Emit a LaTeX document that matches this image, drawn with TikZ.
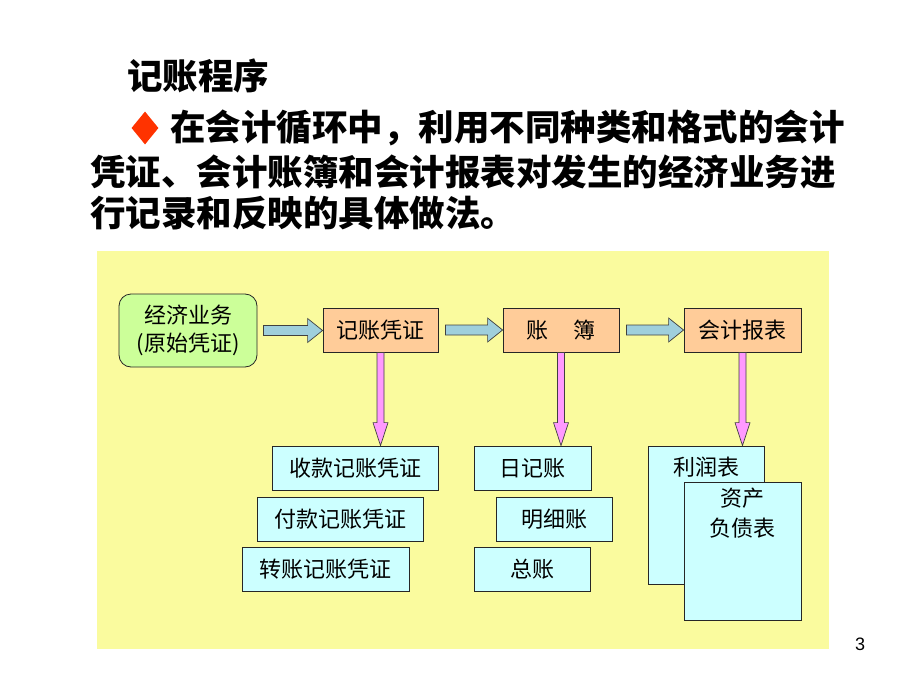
\documentclass[tikz,border=0pt]{standalone}
\usepackage{fontspec}
\setmainfont{Liberation Sans}
\newfontfamily\cjk{Noto Sans CJK SC}
\usetikzlibrary{calc,positioning,shapes.geometric}

\definecolor{giallo}{HTML}{FAFB9E}
\definecolor{verde}{HTML}{CCFF99}
\definecolor{arancio}{HTML}{FFCC99}
\definecolor{ciano}{HTML}{CCFFFF}
\definecolor{azzurro}{HTML}{9FCFDC}
\definecolor{rosa}{HTML}{FF99FF}
\definecolor{rombo}{HTML}{FF3300}

\tikzset{
  testo/.style={anchor=west, inner sep=0pt, font=\cjk\bfseries\fontsize{35.5}{42}\selectfont},
  scatola/.style={draw=black!85, line width=0.8pt, minimum height=44pt, inner sep=0pt,
    font=\cjk\fontsize{22}{28}\selectfont},
  passo/.style={scatola, fill=arancio},
  dettaglio/.style={scatola, fill=ciano},
  rarr/.style={draw=black!75, line width=0.7pt, fill=azzurro},
  darr/.style={draw=black!75, line width=0.7pt, fill=rosa}
}

% freccia a blocco verso destra
\newcommand{\destra}[2]{\draw[rarr] let \p1=(#1), \p2=(#2) in
  (\x1,\y1-5pt) -- (\x2-15pt,\y1-5pt) -- (\x2-15pt,\y1-12pt) -- (\x2,\y1)
  -- (\x2-15pt,\y1+12pt) -- (\x2-15pt,\y1+5pt) -- (\x1,\y1+5pt) -- cycle;}
% freccia a blocco verso il basso
\newcommand{\giu}[2]{\draw[darr] let \p1=(#1), \p2=(#2) in
  (\x1-3.5pt,\y1) -- (\x1-3.5pt,\y2+23pt) -- (\x1-7.5pt,\y2+23pt) -- (\x1,\y2)
  -- (\x1+7.5pt,\y2+23pt) -- (\x1+3.5pt,\y2+23pt) -- (\x1+3.5pt,\y1) -- cycle;}

\begin{document}
\begin{tikzpicture}[x=1pt,y=-1pt]
    \useasboundingbox (0,0) rectangle (920,690);

    % Titolo e testo
    \node[testo] (titolo) at (127,76) {记账程序};
    \node[fill=rombo, diamond, minimum width=27pt, minimum height=33pt, inner sep=0pt] (punto) at (145,128) {};
    \node[testo] (riga1) at (170,128) {在会计循环中，利用不同种类和格式的会计};
    \node[testo] (riga2) at (90,172) {凭证、会计账簿和会计报表对发生的经济业务进};
    \node[testo] (riga3) at (90,213) {行记录和反映的具体做法。};

    % Sfondo
    \fill[giallo] (97,251) rectangle (829,649);

    % Prima fila
    \node[scatola, fill=verde, rounded corners=12pt, minimum width=138pt, minimum height=73pt,
          align=center] (affari) at (188,330.5) {经济业务\\(原始凭证)};
    \node[passo, minimum width=115pt] (voucher) at (380.5,330) {记账凭证};
    \node[passo, minimum width=116pt] (libri) at (561,330) {账\hspace{1.1em}簿};
    \node[passo, minimum width=117pt] (report) at (742.5,330) {会计报表};

    % Frecce orizzontali
    \destra{$(affari.east)+(6,0)$}{voucher.west}
    \destra{$(voucher.east)+(7,0)$}{libri.west}
    \destra{$(libri.east)+(7,0)$}{report.west}

    % Registrazioni
    \node[dettaglio, minimum width=166pt] (incasso) at (355,468) {收款记账凭证};
    \node[dettaglio, minimum width=166pt] (pagamento) at (340,519) {付款记账凭证};
    \node[dettaglio, minimum width=167pt] (giroconto) at (325.5,569) {转账记账凭证};

    % Libri
    \node[dettaglio, minimum width=117pt] (giornale) at (532.5,468) {日记账};
    \node[dettaglio, minimum width=116pt] (partitario) at (554,519) {明细账};
    \node[dettaglio, minimum width=116pt] (mastro) at (532,569) {总账};

    % Prospetti
    \node[dettaglio, minimum width=116pt, minimum height=138pt] (conto) at (706,515) {};
    \node[font=\cjk\fontsize{22}{28}\selectfont] (contot) at (706,467) {利润表};
    \node[dettaglio, minimum width=117pt, minimum height=138pt] (bilancio) at (742.5,551) {};
    \node[font=\cjk\fontsize{22}{30}\selectfont, align=center] (bilanciot) at (742.5,513) {资产\\负债表};

    % Frecce verticali
    \giu{voucher.south}{voucher.south |- incasso.north}
    \giu{libri.south}{libri.south |- giornale.north}
    \giu{report.south}{report.south |- conto.north}

    % Numero pagina
    \node[font=\fontsize{18}{20}\selectfont] (pagina) at (860,644) {3};
\end{tikzpicture}
\end{document}
